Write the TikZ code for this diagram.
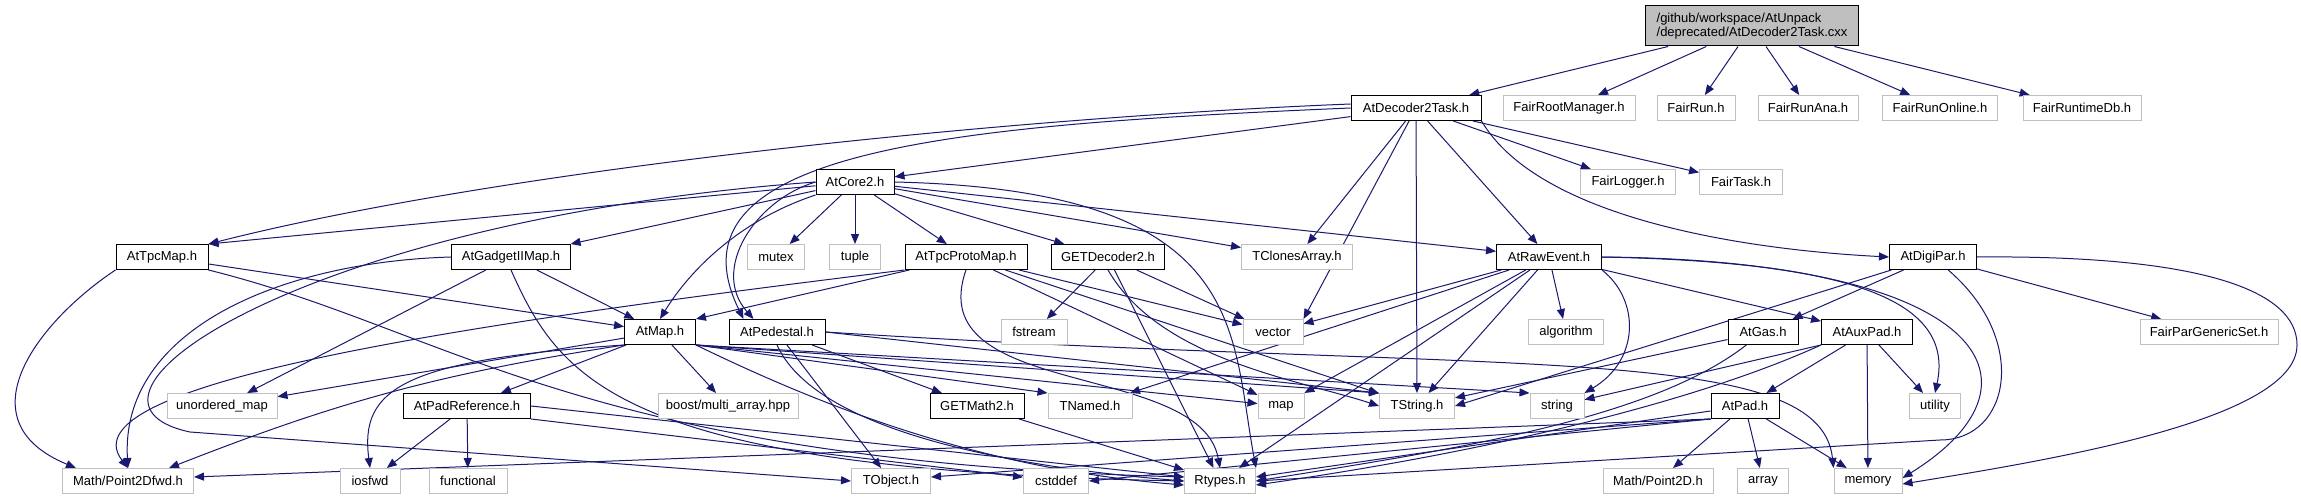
\documentclass[tikz,border=0pt]{standalone}
\usepackage{fontspec}
\setmainfont{Liberation Sans}
\usetikzlibrary{arrows.meta}

\definecolor{edgeblue}{HTML}{191970}
\definecolor{sysgrey}{HTML}{BFBFBF}

\pgfdeclarelayer{paper}
\pgfdeclarelayer{links}
\pgfsetlayers{paper,links,main}

\begin{document}
\begin{tikzpicture}[x=1pt, y=1pt,
    incfile/.style={draw=black, fill=white, line width=1pt, minimum height=25pt,
        inner sep=2pt, font=\fontsize{13}{14}\selectfont},
    sysfile/.style={incfile, draw=sysgrey},
    srcfile/.style={incfile, fill=sysgrey, minimum height=40pt, align=left},
    dep/.style={draw=edgeblue, line width=1pt, -{Triangle[length=10pt, width=8pt]}}]

    % 画布
    \useasboundingbox (0,0) rectangle (2301,-500);
    \begin{pgfonlayer}{paper}
        \fill[white] (0,0) rectangle (2301,-500);
    \end{pgfonlayer}

    % 源文件
    \node[srcfile, minimum width=213pt] (root) at (1752,-26) {/github/workspace/AtUnpack\\/deprecated/AtDecoder2Task.cxx};

    % 第二层
    \node[incfile, minimum width=130pt] (dectask) at (1416,-108) {AtDecoder2Task.h};
    \node[sysfile, minimum width=132pt] (frootmgr) at (1569,-108) {FairRootManager.h};
    \node[sysfile, minimum width=78pt] (frun) at (1696,-108) {FairRun.h};
    \node[sysfile, minimum width=100pt] (frunana) at (1808,-108) {FairRunAna.h};
    \node[sysfile, minimum width=115pt] (frunonline) at (1940,-108) {FairRunOnline.h};
    \node[sysfile, minimum width=118pt] (fruntimedb) at (2082,-108) {FairRuntimeDb.h};

    % 第三层
    \node[incfile, minimum width=78pt] (core) at (855,-182) {AtCore2.h};
    \node[sysfile, minimum width=95pt] (flogger) at (1628,-182) {FairLogger.h};
    \node[sysfile, minimum width=83pt] (ftask) at (1741,-182) {FairTask.h};

    % 第四层
    \node[incfile, minimum width=92pt] (tpcmap) at (162,-257) {AtTpcMap.h};
    \node[incfile, minimum width=119pt] (gadget) at (511,-257) {AtGadgetIIMap.h};
    \node[sysfile, minimum width=57pt] (mutex) at (776,-257) {mutex};
    \node[sysfile, minimum width=51pt] (tuple) at (855,-257) {tuple};
    \node[incfile, minimum width=122pt] (protomap) at (966,-257) {AtTpcProtoMap.h};
    \node[incfile, minimum width=113pt] (getdec) at (1108,-257) {GETDecoder2.h};
    \node[sysfile, minimum width=111pt] (tclones) at (1297,-257) {TClonesArray.h};
    \node[incfile, minimum width=105pt] (rawevt) at (1549,-257) {AtRawEvent.h};
    \node[incfile, minimum width=87pt] (digipar) at (1933,-257) {AtDigiPar.h};

    % 第五层
    \node[incfile, minimum width=71pt] (atmap) at (660,-332) {AtMap.h};
    \node[incfile, minimum width=96pt] (pedestal) at (777,-332) {AtPedestal.h};
    \node[sysfile, minimum width=66pt] (fstream) at (1034,-332) {fstream};
    \node[sysfile, minimum width=60pt] (vector) at (1273,-332) {vector};
    \node[sysfile, minimum width=75pt] (algorithm) at (1566,-332) {algorithm};
    \node[incfile, minimum width=70pt] (gas) at (1763,-332) {AtGas.h};
    \node[incfile, minimum width=91pt] (auxpad) at (1867,-332) {AtAuxPad.h};
    \node[sysfile, minimum width=138pt] (fpargen) at (2209,-332) {FairParGenericSet.h};

    % 第六层
    \node[sysfile, minimum width=110pt] (umap) at (222,-406) {unordered\_map};
    \node[incfile, minimum width=127pt] (padref) at (467,-406) {AtPadReference.h};
    \node[sysfile, minimum width=140pt] (boost) at (728,-406) {boost/multi\_array.hpp};
    \node[incfile, minimum width=94pt] (getmath) at (977,-406) {GETMath2.h};
    \node[sysfile, minimum width=84pt] (tnamed) at (1090,-406) {TNamed.h};
    \node[sysfile, minimum width=46pt] (map) at (1281,-406) {map};
    \node[sysfile, minimum width=75pt] (tstring) at (1417,-406) {TString.h};
    \node[sysfile, minimum width=54pt] (string) at (1557,-406) {string};
    \node[incfile, minimum width=68pt] (atpad) at (1745,-406) {AtPad.h};
    \node[sysfile, minimum width=51pt] (utility) at (1935,-406) {utility};

    % 第七层
    \node[sysfile, minimum width=131pt] (pfwd) at (128,-481) {Math/Point2Dfwd.h};
    \node[sysfile, minimum width=60pt] (iosfwd) at (370,-481) {iosfwd};
    \node[sysfile, minimum width=78pt] (functional) at (468,-481) {functional};
    \node[sysfile, minimum width=79pt] (tobject) at (891,-481) {TObject.h};
    \node[sysfile, minimum width=65pt] (cstddef) at (1056,-481) {cstddef};
    \node[sysfile, minimum width=71pt] (rtypes) at (1220,-481) {Rtypes.h};
    \node[sysfile, minimum width=110pt] (ptwod) at (1658,-481) {Math/Point2D.h};
    \node[sysfile, minimum width=51pt] (array) at (1763,-481) {array};
    \node[sysfile, minimum width=68pt] (memory) at (1868,-481) {memory};

    \begin{pgfonlayer}{links}
    % 源文件的依赖
    \draw[dep] (root) -- (dectask);
    \draw[dep] (root) -- (frootmgr);
    \draw[dep] (root) -- (frun);
    \draw[dep] (root) -- (frunana);
    \draw[dep] (root) -- (frunonline);
    \draw[dep] (root) -- (fruntimedb);

    % AtDecoder2Task.h
    \draw[dep] (dectask) -- (core);
    \draw[dep] ([yshift=4pt]dectask.west) .. controls (1000,-118) and (500,-170) .. (tpcmap.north east);
    \draw[dep] (dectask.west) .. controls (950,-125) and (660,-150) .. ([xshift=15pt]pedestal.north west);
    \draw[dep] (dectask) -- (tclones);
    \draw[dep] (dectask) -- (vector.north east);
    \draw[dep] (dectask) -- (tstring);
    \draw[dep] (dectask) -- (rawevt);
    \draw[dep] (dectask) -- (flogger);
    \draw[dep] (dectask) -- (ftask);
    \draw[dep] (dectask.south east) .. controls (1540,-220) and (1750,-250) .. (digipar.west);

    % AtCore2.h
    \draw[dep] (core) -- (tpcmap.north east);
    \draw[dep] (core) -- (gadget);
    \draw[dep] (core) -- (mutex);
    \draw[dep] (core) -- (tuple);
    \draw[dep] (core) -- (protomap);
    \draw[dep] (core) -- (getdec);
    \draw[dep] (core) -- (tclones);
    \draw[dep] (core) -- (rawevt);
    \draw[dep] (core.south west) .. controls (740,-220) and (690,-270) .. (atmap.north);
    \draw[dep] (core.west) .. controls (755,-200) and (710,-270) .. ([xshift=25pt]pedestal.north west);
    \draw[dep] (core.west) .. controls (300,-220) and (40,-400) .. (190,-432) -- (tobject.west);
    \draw[dep] (core.east) .. controls (1250,-190) and (1230,-330) .. (rtypes.north east);

    % AtTpcMap.h
    \draw[dep] (tpcmap.south west) .. controls (40,-320) and (-40,-420) .. ([xshift=14pt]pfwd.north west);
    \draw[dep] (tpcmap) -- (atmap);
    \draw[dep] (tpcmap.south east) .. controls (450,-330) and (580,-460) .. ([yshift=4pt]rtypes.west);

    % AtGadgetIIMap.h
    \draw[dep] (gadget.west) .. controls (280,-262) and (120,-330) .. (pfwd.north);
    \draw[dep] (gadget) -- (umap);
    \draw[dep] (gadget) -- (atmap);
    \draw[dep] (gadget.south) .. controls (560,-380) and (620,-470) .. (rtypes.west);

    % AtTpcProtoMap.h
    \draw[dep] (protomap) -- (atmap.north east);
    \draw[dep] (protomap.south west) .. controls (500,-320) and (60,-380) .. (pfwd.north);
    \draw[dep] (protomap) -- (vector);
    \draw[dep] (protomap) -- (map);
    \draw[dep] (protomap) -- (tstring);
    \draw[dep] (protomap.south) .. controls (920,-400) and (1200,-360) .. (rtypes.north);

    % GETDecoder2.h
    \draw[dep] (getdec) -- (fstream);
    \draw[dep] (getdec) -- (vector);
    \draw[dep] (getdec.south) .. controls (1160,-360) and (1300,-380) .. (tstring.west);
    \draw[dep] (getdec) -- (rtypes);

    % AtRawEvent.h
    \draw[dep] (rawevt) -- (vector);
    \draw[dep] (rawevt) -- (map);
    \draw[dep] (rawevt) -- (tnamed);
    \draw[dep] (rawevt) -- (tstring);
    \draw[dep] (rawevt) -- (algorithm);
    \draw[dep] (rawevt.south east) .. controls (1640,-300) and (1640,-360) .. (string.north east);
    \draw[dep] (rawevt) -- (auxpad);
    \draw[dep] (rawevt) -- (rtypes);
    \draw[dep] (rawevt.east) .. controls (1850,-262) and (1955,-300) .. (utility.north);
    \draw[dep] (rawevt.east) .. controls (1980,-260) and (2060,-380) .. ([yshift=3pt]memory.east);

    % AtDigiPar.h
    \draw[dep] (digipar) -- (gas);
    \draw[dep] (digipar) -- (tstring.east);
    \draw[dep] (digipar) -- (fpargen);
    \draw[dep] (digipar) .. controls (2030,-340) and (2010,-440) .. (1940,-440) -- (rtypes.east);
    \draw[dep] (digipar.east) .. controls (2200,-255) and (2297,-290) .. (2297,-345)
        .. controls (2297,-420) and (2050,-460) .. ([yshift=-3pt]memory.east);

    % AtMap.h
    \draw[dep] (atmap) -- (umap);
    \draw[dep] (atmap.south west) .. controls (430,-375) and (330,-405) .. ([xshift=-25pt]pfwd.north east);
    \draw[dep] (atmap.south west) .. controls (400,-360) and (360,-390) .. (iosfwd.north);
    \draw[dep] (atmap) -- (padref);
    \draw[dep] (atmap) -- (boost);
    \draw[dep] (atmap.south east) -- (tnamed.north west);
    \draw[dep] (atmap.south east) -- (map);
    \draw[dep] (atmap.south east) -- (tstring.north west);
    \draw[dep] (atmap.south east) -- (string.north west);
    \draw[dep] (atmap.south east) .. controls (850,-420) and (1000,-470) .. ([yshift=-4pt]rtypes.west);

    % AtPedestal.h
    \draw[dep] (pedestal) -- (tobject);
    \draw[dep] (pedestal) -- (getmath);
    \draw[dep] (pedestal.south) .. controls (820,-440) and (1050,-470) .. (rtypes.west);
    \draw[dep] (pedestal.east) -- (tstring.north west);
    \draw[dep] (pedestal.east) .. controls (1500,-375) and (1820,-340) .. (memory.north west);

    % AtPadReference.h
    \draw[dep] (padref) -- (iosfwd);
    \draw[dep] (padref) -- (functional);
    \draw[dep] (padref.south east) -- (cstddef);
    \draw[dep] (padref.east) -- ([yshift=4pt]rtypes.west);

    % GETMath2.h
    \draw[dep] (getmath) -- (rtypes);

    % AtGas.h
    \draw[dep] (gas) -- (tstring);
    \draw[dep] (gas) .. controls (1650,-420) and (1450,-450) .. (rtypes.east);

    % AtAuxPad.h
    \draw[dep] (auxpad.south west) -- (string);
    \draw[dep] (auxpad) -- (atpad);
    \draw[dep] (auxpad) -- (memory);
    \draw[dep] (auxpad) -- (utility);
    \draw[dep] (auxpad.south west) .. controls (1700,-400) and (1500,-450) .. ([yshift=-4pt]rtypes.east);

    % AtPad.h
    \draw[dep] (atpad.south west) -- ([yshift=4pt]pfwd.east);
    \draw[dep] (atpad.south west) -- ([yshift=4pt]tobject.east);
    \draw[dep] (atpad.south west) -- (cstddef.east);
    \draw[dep] (atpad) -- ([yshift=4pt]rtypes.east);
    \draw[dep] (atpad) -- (ptwod);
    \draw[dep] (atpad) -- (array);
    \draw[dep] (atpad) -- (memory);
    \end{pgfonlayer}
\end{tikzpicture}
\end{document}
